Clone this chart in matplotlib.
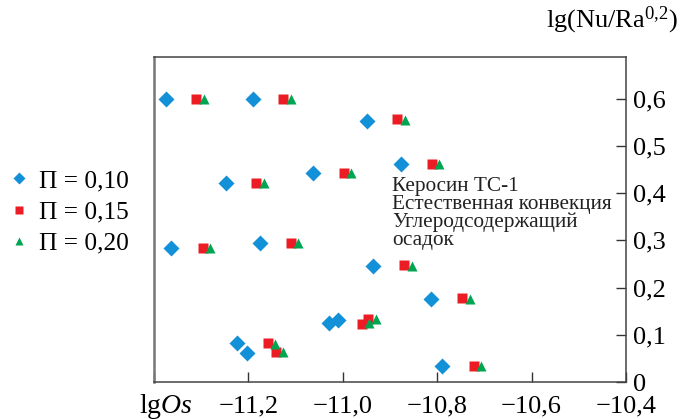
import matplotlib
matplotlib.use("Agg")
import matplotlib.pyplot as plt
from matplotlib.ticker import FixedLocator, FuncFormatter

plt.rcParams["font.family"] = ["Liberation Serif", "DejaVu Serif"]
plt.rcParams["mathtext.fontset"] = "custom"
plt.rcParams["mathtext.rm"] = "Liberation Serif"
plt.rcParams["mathtext.it"] = "Liberation Serif:italic"

# ── Data ──────────────────────────────────────────────────────────────────
p010_x = [-11.375, -11.190, -10.949, -10.876, -11.063, -11.248, -11.364, -11.176,
          -10.937, -10.814, -11.029, -11.011, -11.224, -11.204, -10.789]
p010_y = [0.599, 0.599, 0.553, 0.461, 0.442, 0.421, 0.283, 0.295,
          0.245, 0.176, 0.125, 0.132, 0.082, 0.061, 0.034]

p015_x = [-11.310, -11.127, -10.886, -10.812, -10.998, -11.183, -11.296, -11.110,
          -10.871, -10.747, -10.960, -10.946, -11.159, -11.142, -10.723]
p015_y = [0.599, 0.599, 0.556, 0.461, 0.442, 0.421, 0.283, 0.295,
          0.247, 0.177, 0.123, 0.134, 0.083, 0.064, 0.034]

p020_x = [-11.294, -11.110, -10.869, -10.797, -10.983, -11.167, -11.281, -11.095,
          -10.854, -10.731, -10.944, -10.929, -11.144, -11.126, -10.707]
p020_y = [0.599, 0.599, 0.555, 0.461, 0.442, 0.421, 0.283, 0.295,
          0.246, 0.176, 0.125, 0.133, 0.081, 0.064, 0.034]

x_ticks = [-11.4, -11.2, -11.0, -10.8, -10.6, -10.4]
y_ticks = [0, 0.1, 0.2, 0.3, 0.4, 0.5, 0.6]
labels = ["П = 0,10", "П = 0,15", "П = 0,20"]
note = "Керосин ТС-1\nЕстественная конвекция\nУглеродсодержащий\nосадок"

BLUE, RED, GREEN = "#1290d8", "#ec1c24", "#00a551"


def comma_fmt(v, pos):
    if abs(v) < 1e-9:
        return "0"
    if abs(v + 11.4) < 1e-6:
        return ""
    return f"{v:.1f}".replace(".", ",").replace("-", "\u2212")


fig = plt.figure(figsize=(6.8, 4.19), dpi=100)
ax = fig.add_axes([0.2265, 0.0883, 0.694, 0.7757])

ax.plot(p010_x, p010_y, "D", ms=8.5, color=BLUE, mec="none", label=labels[0])
ax.plot(p015_x, p015_y, "s", ms=7.8, color=RED, mec="none", label=labels[1])
ax.plot(p020_x, p020_y, "^", ms=7.8, color=GREEN, mec="none", label=labels[2])

ax.set_xlim(-11.4, -10.4)
ax.set_ylim(0, 0.688)

ax.xaxis.set_major_locator(FixedLocator(x_ticks))
ax.yaxis.set_major_locator(FixedLocator(y_ticks))
ax.xaxis.set_major_formatter(FuncFormatter(comma_fmt))
ax.yaxis.set_major_formatter(FuncFormatter(comma_fmt))

ax.yaxis.tick_right()
ax.tick_params(axis="both", direction="in", length=7, width=1, color="#333333",
               labelsize=19)
ax.tick_params(axis="x", pad=10)
ax.tick_params(axis="y", pad=5)

for s in ax.spines.values():
    s.set_color("#444444")
    s.set_linewidth(1.1)
ax.spines["left"].set_color("#777777")
ax.spines["left"].set_linewidth(1.8)

ax.text(0.504, 0.632, note, transform=ax.transAxes, ha="left", va="top",
        fontsize=15.3, linespacing=0.93, color="#222222")

fig.text(0.204, 1 - 406 / 419, r"lg$\mathit{Os}$", ha="left", va="center",
         fontsize=20)
fig.text(0.996, 1 - 20 / 419, r"lg(Nu/Ra$^{0{,}2}$)", ha="right", va="center",
         fontsize=19)

fig.legend(loc="center left", bbox_to_anchor=(-0.012, 0.494), frameon=False,
           fontsize=18.3, markerscale=0.72, handlelength=0.5, handletextpad=0.55,
           labelspacing=0.33, borderpad=0.3)

fig.savefig("out.png", dpi=100)
